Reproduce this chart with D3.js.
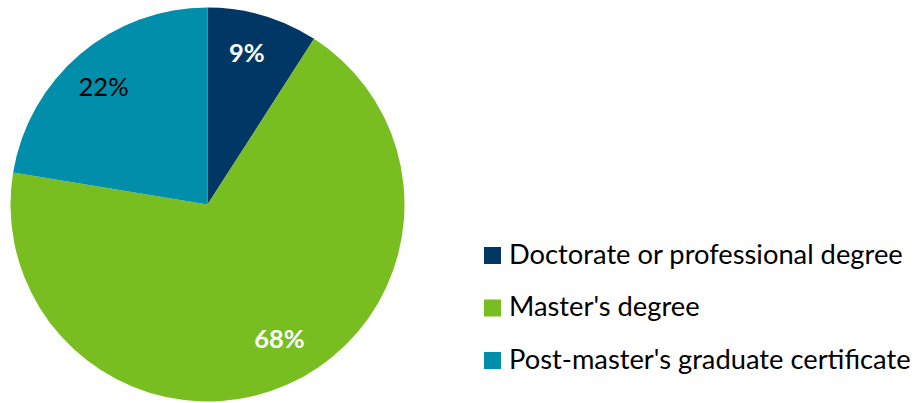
<!DOCTYPE html>
<html><head><meta charset="utf-8">
<script src="https://cdn.jsdelivr.net/npm/d3@7"></script>
<style>body{margin:0;background:#fff}svg{display:block}</style>
</head><body>
<svg id="c" width="915" height="403"></svg>
<script>
const categories = ["Doctorate or professional degree", "Master's degree", "Post-master's graduate certificate"];
const values = [9.1, 68.5, 22.4];
const labels = ["9%", "68%", "22%"];
const colors = ["#003764", "#78BE21", "#008EAA"];
const labelColors = ["#fff", "#fff", "#000"];
const labelWeights = ["bold", "bold", "normal"];

const svg = d3.select("#c");
const cx = 207.5, cy = 204.5, r = 197;
const pie = d3.pie().sort(null).value(d => d)(values);
const arc = d3.arc().innerRadius(0).outerRadius(r);
const labelArc = d3.arc().innerRadius(150).outerRadius(165);
const g = svg.append("g").attr("transform", `translate(${cx},${cy})`);
g.selectAll("path").data(pie).join("path")
  .attr("d", arc).attr("fill", (d, i) => colors[i]);
const offs = [[-5, -1], [8, -10], [-2, 2]];
g.selectAll("text").data(pie).join("text")
  .attr("x", (d, i) => labelArc.centroid(d)[0] + offs[i][0])
  .attr("y", (d, i) => labelArc.centroid(d)[1] + offs[i][1])
  .attr("text-anchor", "middle").attr("dominant-baseline", "central")
  .attr("font-family", "Lato, 'Open Sans', sans-serif")
  .attr("font-size", 25.5)
  .attr("font-weight", (d, i) => labelWeights[i])
  .attr("fill", (d, i) => labelColors[i])
  .text((d, i) => labels[i]);

const leg = svg.append("g").attr("transform", "translate(484,247)");
const items = leg.selectAll("g").data(categories).join("g")
  .attr("transform", (d, i) => `translate(0,${i * 52.5})`);
items.append("rect").attr("width", 17).attr("height", 17).attr("fill", (d, i) => colors[i]);
items.append("text").attr("x", 25).attr("y", 16.5)
  .attr("font-family", "Lato, 'Open Sans', sans-serif").attr("font-size", 27.3).attr("fill", "#000")
  .text(d => d);
</script>
</body></html>
